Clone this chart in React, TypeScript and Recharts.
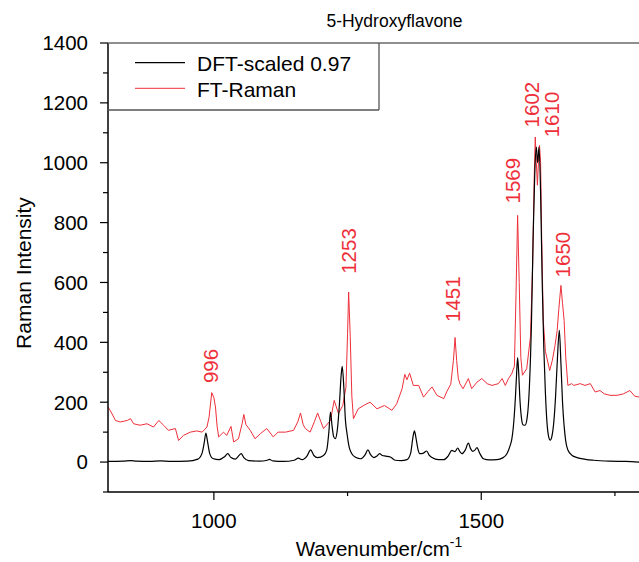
import {
  ComposedChart,
  Line,
  Scatter,
  XAxis,
  YAxis,
} from "recharts";

// FT-Raman spectrum (cm-1, intensity)
const ramanWavenumber = [
  802, 806, 816, 825, 838, 844, 850, 862, 875, 887, 897, 906, 915, 928, 934, 943,
  956, 968, 978, 987, 991, 996, 1000, 1003, 1006, 1009, 1018, 1024, 1032, 1037,
  1046, 1053, 1056, 1060, 1068, 1077, 1087, 1099, 1111, 1120, 1134, 1149, 1157,
  1162, 1167, 1171, 1180, 1188, 1194, 1200, 1205, 1218, 1225, 1233, 1241, 1247,
  1250, 1252, 1255, 1258, 1261, 1270, 1281, 1292, 1305, 1319, 1333, 1342, 1352,
  1357, 1361, 1366, 1373, 1383, 1392, 1400, 1408, 1417, 1430, 1436, 1443, 1448,
  1451, 1454, 1457, 1460, 1466, 1476, 1482, 1492, 1501, 1511, 1520, 1532, 1539,
  1545, 1551, 1557, 1562, 1565, 1568, 1571, 1574, 1577, 1585, 1592, 1596, 1599,
  1601, 1603, 1605, 1607, 1609, 1611, 1613, 1616, 1620, 1628, 1633, 1638, 1642,
  1645, 1649, 1652, 1655, 1658, 1662, 1669, 1673, 1685, 1694, 1704, 1713, 1722,
  1730, 1741, 1754, 1766, 1778, 1787, 1796,
];
const ramanIntensity = [
  184, 173, 139, 134, 139, 145, 128, 123, 128, 117, 139, 123, 106, 112, 72, 89,
  100, 104, 100, 117, 150, 232, 215, 184, 120, 84, 100, 89, 119, 67,
  78, 130, 159, 125, 106, 78, 95, 112, 84, 100, 100, 106, 135,
  164, 125, 112, 100, 135, 164, 135, 112, 139, 206, 162, 189, 250,
  430, 568, 420, 220, 145, 178, 190, 200, 178, 189, 173, 195, 245,
  293, 275, 297, 256, 256, 217, 235, 251, 223, 212, 237, 260, 340,
  416, 340, 280, 262, 245, 279, 245, 267, 279, 262, 256, 262, 279,
  256, 279, 295, 320, 560, 824, 600, 350, 290, 312, 418, 650, 950,
  1086, 1000, 925, 1000, 1058, 1000, 750, 473, 370, 306, 340, 390, 440,
  510, 590, 530, 473, 350, 256, 262, 256, 262, 256, 262, 234, 239,
  228, 223, 223, 228, 239, 220, 217,
];

// DFT-calculated spectrum (scaled by 0.97)
const dftWavenumber = [
  802, 830, 845, 855, 880, 900, 920, 950, 970, 978, 982, 985, 988, 992, 998,
  1010, 1020, 1026, 1032, 1040, 1046, 1051, 1056, 1065, 1085, 1100, 1104, 1110,
  1130, 1150, 1158, 1165, 1174, 1181, 1187, 1194, 1205, 1211, 1215, 1218, 1221,
  1224, 1227, 1231, 1235, 1238, 1240, 1243, 1246, 1249, 1253, 1258, 1266, 1274,
  1283, 1288, 1293, 1299, 1305, 1310, 1315, 1321, 1330, 1339, 1350, 1361, 1368,
  1372, 1375, 1378, 1382, 1385, 1392, 1398, 1403, 1408, 1420, 1430, 1438, 1445,
  1451, 1456, 1460, 1464, 1470, 1476, 1480, 1484, 1488, 1492, 1497, 1504, 1515,
  1529, 1540, 1548, 1554, 1557, 1560, 1564, 1566, 1568, 1570, 1572, 1575, 1578,
  1582, 1586, 1590, 1594, 1597, 1600, 1603, 1605.5, 1608, 1611, 1614, 1617, 1620,
  1623, 1626, 1629, 1632, 1636, 1639, 1642, 1646, 1649, 1652, 1655, 1658, 1662,
  1670, 1679, 1695, 1710, 1740, 1770, 1796,
];
const dftIntensity = [
  2, 3, 5, 3, 2, 4, 2, 3, 10, 30, 65, 97, 70, 30, 12,
  8, 18, 28, 15, 10, 20, 28, 15, 5, 3, 6, 9, 4,
  2, 6, 13, 8, 20, 41, 22, 15, 22, 40, 100, 167, 120,
  85, 78, 110, 200, 290, 320, 250, 140, 95, 50, 28, 15, 11,
  25, 41, 25, 15, 20, 28, 22, 20, 17, 6, 5, 8, 30,
  80, 104, 80, 40, 28, 30, 37, 22, 15, 8, 8, 20, 39,
  35, 47, 35, 28, 40, 63, 45, 36, 40, 48, 30, 11, 7,
  8, 14, 28, 55, 75, 117, 220, 290, 349, 300, 220, 150, 125,
  123, 150, 250, 473, 750, 960, 1052, 1000, 1052, 900, 600, 380, 230,
  130, 85, 73, 85, 140, 220, 330, 440, 330, 200, 120, 70, 40,
  22, 15, 9, 6, 3, 2, 0,
];

// Peak annotations: text, and where its foot sits (cm-1, intensity)
const peakLabels = ["996", "1253", "1451", "1569", "1602", "1610", "1650"];
const peakLabelWavenumber = [993, 1252, 1447, 1559, 1595, 1631, 1653];
const peakLabelIntensity = [264, 629, 468, 864, 1118, 1085, 617];

const yTicks = [-100, 0, 100, 200, 300, 400, 500, 600, 700, 800, 900, 1000, 1100, 1200, 1300, 1400];
const xTicks = [1000, 1250, 1500, 1750];

const ramanData = ramanWavenumber.map((x, i) => ({ x, y: ramanIntensity[i] }));
const dftData = dftWavenumber.map((x, i) => ({ x, y: dftIntensity[i] }));
const labelData = peakLabels.map((text, i) => ({
  x: peakLabelWavenumber[i],
  y: peakLabelIntensity[i],
  text,
}));

const FONT = "'Liberation Sans', Arial, Helvetica, sans-serif";
const RED = "#ee2f3a";

function YTick({ x, y, payload }: any) {
  const major = payload.value % 200 === 0;
  return (
    <g>
      <line x1={x - (major ? 8 : 5)} x2={x} y1={y} y2={y} stroke="#000" strokeWidth={1.2} />
      {major && (
        <text x={x - 20} y={y} dy="0.36em" textAnchor="end" fontSize={20.5} fontFamily={FONT} fill="#000">
          {payload.value}
        </text>
      )}
    </g>
  );
}

function XTick({ x, y, payload }: any) {
  const major = payload.value % 500 === 0;
  return (
    <g>
      <line x1={x} x2={x} y1={y} y2={y + (major ? 8 : 4)} stroke="#000" strokeWidth={1.2} />
      {major && (
        <text x={x} y={y + 29} dy="0.36em" textAnchor="middle" fontSize={20.5} fontFamily={FONT} fill="#000">
          {payload.value}
        </text>
      )}
    </g>
  );
}

function PeakLabel({ cx, cy, payload }: any) {
  return (
    <text
      x={cx}
      y={cy}
      dy="0.36em"
      transform={`rotate(-90 ${cx} ${cy})`}
      textAnchor="start"
      fontSize={20.5}
      fontFamily={FONT}
      fill={RED}
    >
      {payload.text}
    </text>
  );
}

export default function App() {
  return (
    <div
      style={{
        position: "absolute",
        left: 0,
        top: 0,
        width: 639,
        height: 562,
        overflow: "hidden",
        background: "#fff",
      }}
    >
      <ComposedChart width={639} height={562} margin={{ top: 43, right: 0, bottom: 0, left: 0 }}>
        <XAxis
          dataKey="x"
          type="number"
          domain={[802, 1795]}
          ticks={xTicks}
          allowDataOverflow
          height={70}
          tickSize={0}
          tickMargin={0}
          tickLine={false}
          tick={<XTick />}
          axisLine={{ stroke: "#000", strokeWidth: 1.5 }}
        />
        <YAxis
          dataKey="y"
          type="number"
          domain={[-100, 1400]}
          ticks={yTicks}
          allowDataOverflow
          width={108}
          tickSize={0}
          tickMargin={0}
          tickLine={false}
          tick={<YTick />}
          axisLine={{ stroke: "#000", strokeWidth: 1.5 }}
        />
        <Line
          data={ramanData}
          dataKey="y"
          type="linear"
          stroke={RED}
          strokeWidth={1}
          dot={false}
          isAnimationActive={false}
        />
        <Line
          data={dftData}
          dataKey="y"
          type="monotone"
          stroke="#000"
          strokeWidth={1.2}
          dot={false}
          isAnimationActive={false}
        />
        <Scatter data={labelData} dataKey="y" shape={<PeakLabel />} isAnimationActive={false} />
      </ComposedChart>

      {/* frame, legend, title and axis titles */}
      <svg
        width={639}
        height={562}
        style={{ position: "absolute", left: 0, top: 0, pointerEvents: "none" }}
        fontFamily={FONT}
      >
        <line x1={108} x2={639} y1={43} y2={43} stroke="#6a6a6a" strokeWidth={1.5} />
        <line x1={108} x2={379} y1={110} y2={110} stroke="#555" strokeWidth={1.3} />
        <line x1={379} x2={379} y1={43} y2={110} stroke="#555" strokeWidth={1.3} />
        <line x1={135} x2={185} y1={62.7} y2={62.7} stroke="#000" strokeWidth={1.2} />
        <line x1={135} x2={185} y1={88.3} y2={88.3} stroke={RED} strokeWidth={1} />
        <text x={197} y={63} dy="0.36em" fontSize={21} fill="#000">DFT-scaled 0.97</text>
        <text x={197} y={89} dy="0.36em" fontSize={21} fill="#000">FT-Raman</text>
        <text x={394.5} y={27.3} textAnchor="middle" fontSize={17.5} fill="#000">5-Hydroxyflavone</text>
        <text
          x={23.5}
          y={273}
          dy="0.36em"
          textAnchor="middle"
          fontSize={21}
          fill="#000"
          transform="rotate(-90 23.5 273)"
        >
          Raman Intensity
        </text>
        <text x={379} y={556} textAnchor="middle" fontSize={20.5} fill="#000">
          Wavenumber/cm<tspan fontSize={14} dy={-9}>-1</tspan>
        </text>
      </svg>
    </div>
  );
}
